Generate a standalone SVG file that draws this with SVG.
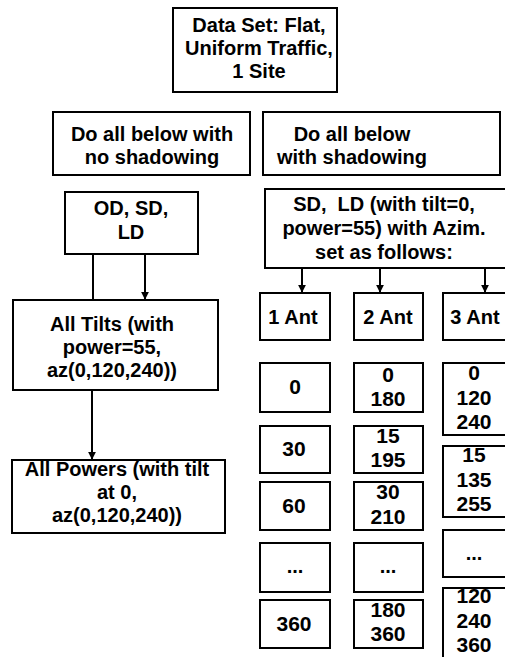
<svg xmlns="http://www.w3.org/2000/svg" width="505" height="657" viewBox="0 0 505 657">
<defs>
<marker id="arr" viewBox="0 0 10 10" refX="9" refY="5" markerWidth="4" markerHeight="4" orient="auto" markerUnits="strokeWidth">
<path d="M0,0 L10,5 L0,10 z" fill="#000"/>
</marker>
<style>
rect{fill:#fff;stroke:#000;stroke-width:2}
text{font-family:"Liberation Sans",Arial,sans-serif;font-weight:bold;font-size:20px;fill:#000;text-anchor:middle}
.n{font-size:21px}
.c line{stroke:#000;stroke-width:2}
</style>
</defs>
<rect x="0" y="0" width="505" height="657" style="fill:#fff;stroke:none"/>
<g id="top"><rect x="173" y="8" width="164" height="84"/>
<text x="259" y="32">Data Set: Flat,</text><text x="259" y="55">Uniform Traffic,</text><text x="259" y="78">1 Site</text></g>
<g id="noshadow"><rect x="53" y="112" width="197" height="63"/>
<text x="152" y="141">Do all below with</text><text x="152" y="164">no shadowing</text></g>
<g id="shadow"><rect x="263" y="112" width="237" height="63"/>
<text x="352" y="141">Do all below</text><text x="352" y="164">with shadowing</text></g>
<g id="od"><rect x="65" y="192" width="133" height="62"/>
<text x="131" y="215">OD, SD,</text><text x="131" y="239">LD</text></g>
<g id="tilts"><rect x="13" y="300" width="205" height="90"/>
<text x="112" y="331">All Tilts (with</text><text x="112" y="354">power=55,</text><text x="112" y="377">az(0,120,240))</text></g>
<g id="powers"><rect x="12" y="460" width="213" height="73"/>
<text x="117" y="476">All Powers (with tilt</text><text x="117" y="499">at 0,</text><text x="117" y="522">az(0,120,240))</text></g>
<g id="sdld"><rect x="265" y="189" width="250" height="79"/>
<text x="384" y="211" xml:space="preserve">SD,  LD (with tilt=0,</text><text x="384" y="235">power=55) with Azim.</text><text x="384" y="259">set as follows:</text></g>
<g id="ant1"><rect x="260" y="293" width="70" height="47"/><text x="293" y="324">1 Ant</text></g>
<g id="ant2"><rect x="354" y="293" width="69" height="47"/><text x="388" y="324">2 Ant</text></g>
<g id="ant3"><rect x="443" y="293" width="70" height="47"/><text x="475" y="324">3 Ant</text></g>
<g id="a1r1"><rect x="260" y="363" width="70" height="49"/><text class="n" x="295" y="394">0</text></g>
<g id="a1r2"><rect x="260" y="426" width="70" height="47"/><text class="n" x="294" y="456">30</text></g>
<g id="a1r3"><rect x="260" y="482" width="70" height="48"/><text class="n" x="294" y="513">60</text></g>
<g id="a1r4"><rect x="260" y="543" width="70" height="49"/><text x="295" y="573">...</text></g>
<g id="a1r5"><rect x="260" y="600" width="70" height="48"/><text class="n" x="294" y="631">360</text></g>
<g id="a2r1"><rect x="354" y="363" width="69" height="49"/><text class="n" x="388" y="382">0</text><text class="n" x="388" y="406">180</text></g>
<g id="a2r2"><rect x="354" y="426" width="69" height="47"/><text class="n" x="388" y="443">15</text><text class="n" x="388" y="467">195</text></g>
<g id="a2r3"><rect x="354" y="482" width="69" height="48"/><text class="n" x="388" y="499">30</text><text class="n" x="388" y="524">210</text></g>
<g id="a2r4"><rect x="354" y="543" width="69" height="49"/><text x="388" y="573">...</text></g>
<g id="a2r5"><rect x="354" y="600" width="69" height="48"/><text class="n" x="388" y="617">180</text><text class="n" x="388" y="641">360</text></g>
<g id="a3r1"><rect x="443" y="363" width="70" height="72"/><text class="n" x="474" y="380">0</text><text class="n" x="474" y="405">120</text><text class="n" x="474" y="429">240</text></g>
<g id="a3r2"><rect x="443" y="446" width="70" height="71"/><text class="n" x="474" y="462">15</text><text class="n" x="474" y="487">135</text><text class="n" x="474" y="511">255</text></g>
<g id="a3r3"><rect x="443" y="530" width="70" height="47"/><text x="474" y="560">...</text></g>
<g id="a3r4"><rect x="443" y="588" width="70" height="80"/><text class="n" x="474" y="603">120</text><text class="n" x="474" y="628">240</text><text class="n" x="474" y="652">360</text></g>
<g class="c" id="connectors">
<line x1="93" y1="254" x2="93" y2="300"/>
<line x1="145" y1="254" x2="145" y2="299" marker-end="url(#arr)"/>
<line x1="92" y1="390" x2="92" y2="459" marker-end="url(#arr)"/>
<line x1="302" y1="268" x2="302" y2="292" marker-end="url(#arr)"/>
<line x1="380" y1="268" x2="380" y2="292" marker-end="url(#arr)"/>
<line x1="485" y1="268" x2="485" y2="292" marker-end="url(#arr)"/>
</g>
</svg>
